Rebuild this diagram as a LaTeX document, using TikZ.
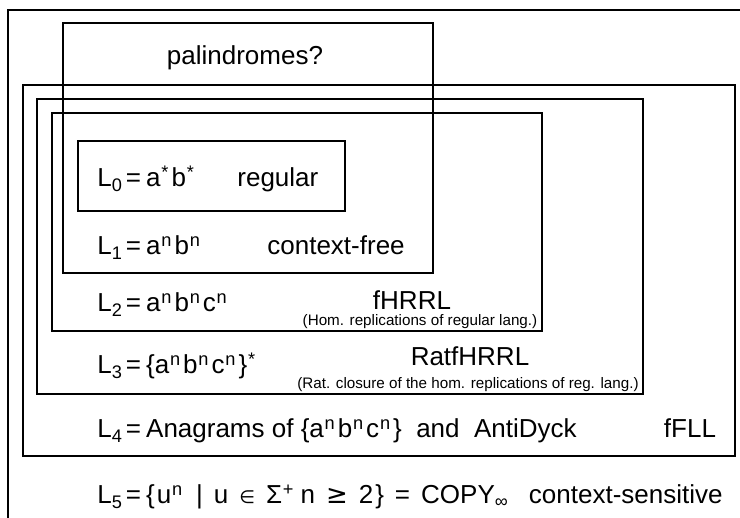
\documentclass[tikz,border=0pt]{standalone}
\usepackage{fontspec}
\setmainfont{Liberation Sans}
\newfontfamily\symfont{DejaVu Sans}

\newcommand{\Lname}[1]{L\textsubscript{#1}\kern1.5pt=\kern2.5pt}
\newcommand{\sps}[1]{\kern0.4pt\textsuperscript{#1}\kern1pt}
\newcommand{\abc}{a\sps{n}b\sps{n}c\sps{n}}
\newcommand{\gap}{\kern5.5pt}

\begin{document}
\begin{tikzpicture}[x=0.5pt, y=-0.5pt,
    box/.style={draw, line width=1.1pt},
    lang/.style={anchor=base west, inner sep=0pt, font=\fontsize{13}{15}\selectfont},
    cls/.style={anchor=base, inner sep=0pt, font=\fontsize{13}{15}\selectfont},
    note/.style={anchor=base, inner sep=0pt, font=\fontsize{7.6}{9}\selectfont}]%
    \useasboundingbox (0,0) rectangle (740,518);
    % nested classes
    \draw[box] (740,10) -| (8,518);
    \draw[box] (23,85) rectangle (735,456);
    \draw[box] (37,99) rectangle (643,394);
    \draw[box] (52,113) rectangle (542,331);
    \draw[box] (63,23) rectangle (433,273);
    \draw[box] (78,141) rectangle (345,211);
    % labels
    \node[cls] (pal) at (245,65) {palindromes?};
    \node[lang] (l0) at (97,187) {\Lname{0}a\sps{*}b\sps{*}};
    \node[lang] (reg) at (237,187) {regular};
    \node[lang] (l1) at (97,255) {\Lname{1}a\sps{n}b\sps{n}};
    \node[lang] (cf) at (267,255) {context-free};
    \node[lang] (l2) at (97,312) {\Lname{2}\abc};
    \node[cls] (hrrl) at (412,310) {fHRRL};
    \node[note] (hrrlnote) at (420,326) {(Hom. replications of regular lang.)};
    \node[lang] (l3) at (97,374) {\Lname{3}\{\abc\}\sps{*}};
    \node[cls] (rhrrl) at (470,366) {RatfHRRL};
    \node[note] (rhrrlnote) at (468,389) {(Rat. closure of the hom. replications of reg. lang.)};
    \node[lang] (l4) at (97,438) {\Lname{4}Anagrams of \{\abc\}\ \ and\ \ AntiDyck};
    \node[cls] (fll) at (690,438) {fFLL};
    \node[lang] (l5) at (97,504) {\Lname{5}\{\kern1pt u\sps{n}\gap\textbar\gap u\gap{\symfont\fontsize{9}{9}\selectfont∈}\gap Σ\sps{+}\kern2pt n\gap{\symfont≥}\gap 2\kern1pt\}\gap=\gap COPY\textsubscript{∞}};
    \node[lang, anchor=base east] (cs) at (723,504) {context-sensitive};
\end{tikzpicture}
\end{document}
